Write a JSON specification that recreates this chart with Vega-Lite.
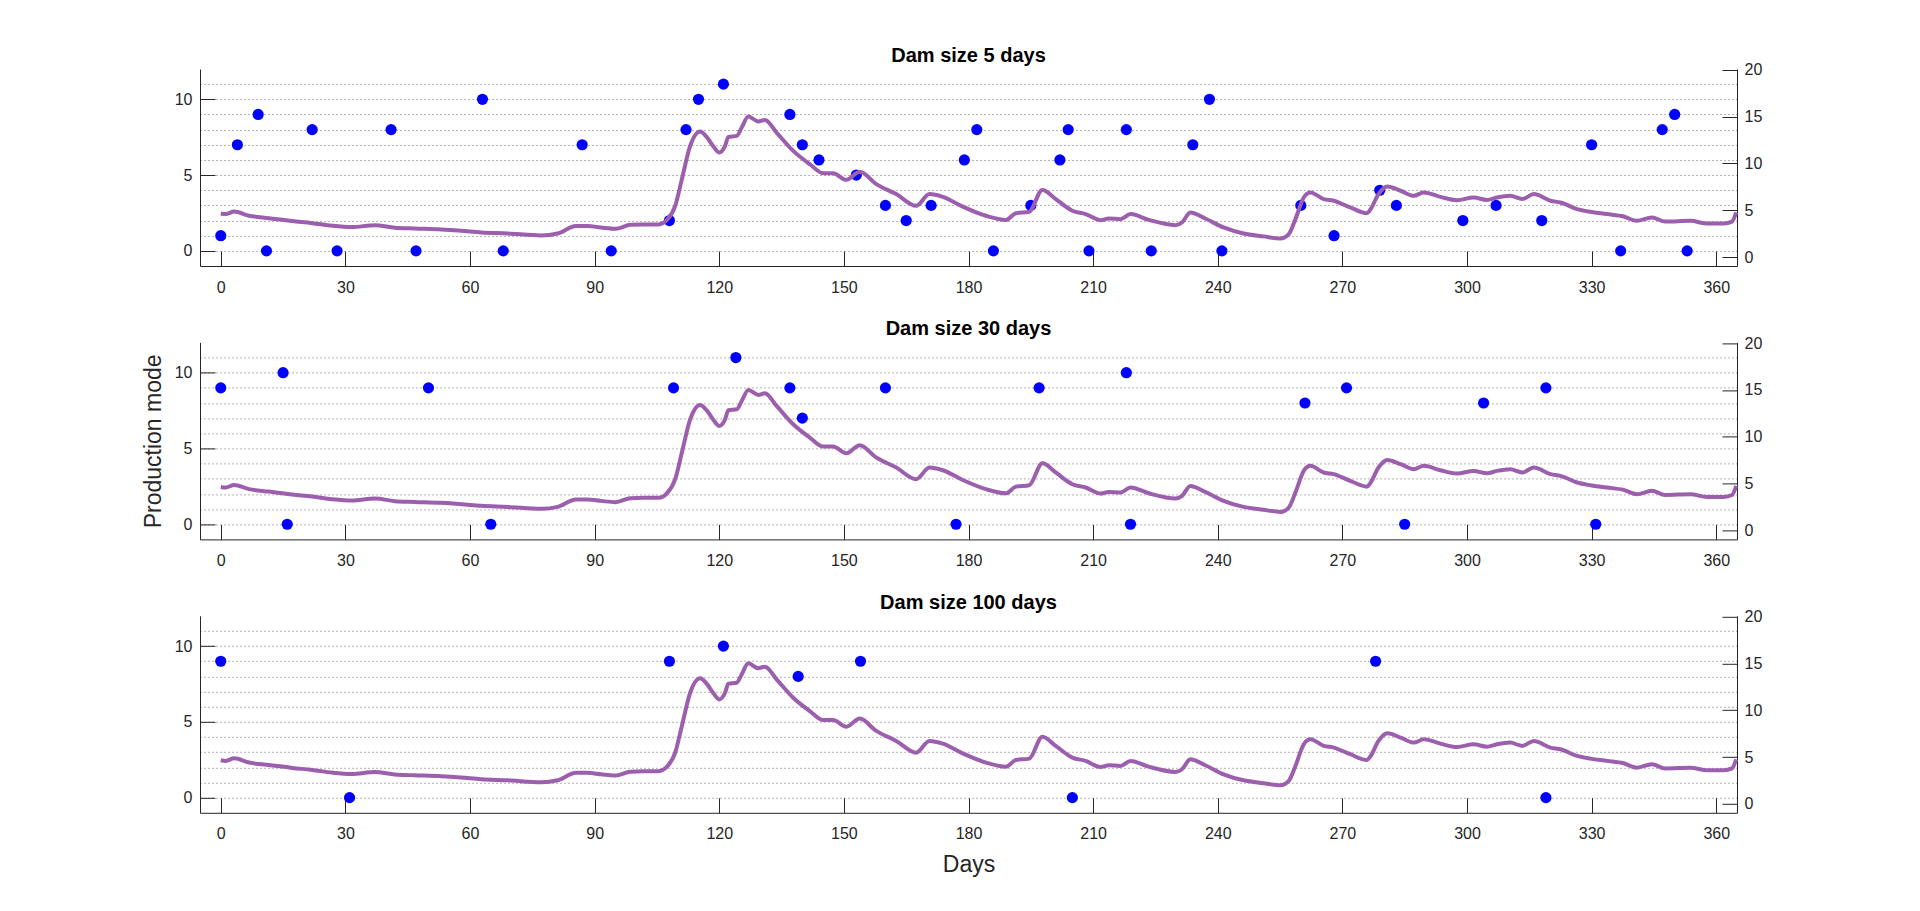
{
  "$schema": "https://vega.github.io/schema/vega-lite/v6.json",
  "padding": {"left": 142, "top": 46, "right": 5, "bottom": 5},
  "spacing": 76.4,
  "bounds": "flush",
  "config": {
    "font": "Liberation Sans",
    "view": {"stroke": null},
    "axis": {
      "labelFont": "Liberation Sans", "labelFontSize": 16, "labelColor": "#262626",
      "titleFont": "Liberation Sans", "titleFontSize": 23, "titleFontWeight": "normal", "titleColor": "#262626",
      "domainColor": "#262626", "tickColor": "#262626", "tickWidth": 1, "tickSize": -15, "grid": false, "labelFlush": false
    },
    "title": {"font": "Liberation Sans", "fontSize": 20, "fontWeight": "bold", "color": "#000000", "frame": "group", "anchor": "middle", "baseline": "alphabetic", "offset": -4.4}
  },
  "datasets": {
    "line": [
      {"day": 0, "v": 4.65}, {"day": 1.2, "v": 4.59}, {"day": 3.2, "v": 4.86}, {"day": 6.8, "v": 4.41}, {"day": 11.6, "v": 4.15},
      {"day": 17.2, "v": 3.84}, {"day": 22, "v": 3.62}, {"day": 26.8, "v": 3.34}, {"day": 31.5, "v": 3.2}, {"day": 37.1, "v": 3.41},
      {"day": 41.9, "v": 3.13}, {"day": 46.7, "v": 3.05}, {"day": 53.1, "v": 2.95}, {"day": 57.9, "v": 2.81}, {"day": 62.7, "v": 2.63},
      {"day": 69.1, "v": 2.52}, {"day": 77.1, "v": 2.31}, {"day": 81.1, "v": 2.52}, {"day": 85.5, "v": 3.31}, {"day": 88.3, "v": 3.31},
      {"day": 91.5, "v": 3.16}, {"day": 95, "v": 3.02}, {"day": 98.6, "v": 3.44}, {"day": 101.8, "v": 3.49}, {"day": 105.4, "v": 3.49},
      {"day": 107.4, "v": 3.97}, {"day": 109.4, "v": 5.47}, {"day": 111, "v": 8.32}, {"day": 113, "v": 11.86}, {"day": 115.4, "v": 13.4},
      {"day": 117, "v": 12.8}, {"day": 118.6, "v": 11.8}, {"day": 120, "v": 11.15}, {"day": 121.4, "v": 11.86}, {"day": 122.2, "v": 12.83},
      {"day": 124.2, "v": 12.93}, {"day": 125.4, "v": 13.82}, {"day": 127, "v": 15.0}, {"day": 129.4, "v": 14.47}, {"day": 131, "v": 14.64},
      {"day": 133.8, "v": 13.29}, {"day": 137.8, "v": 11.33}, {"day": 141.8, "v": 9.91}, {"day": 145, "v": 8.95}, {"day": 147.4, "v": 8.95},
      {"day": 150.6, "v": 8.24}, {"day": 153.8, "v": 9.1}, {"day": 157.8, "v": 7.79}, {"day": 162.6, "v": 6.72}, {"day": 167.4, "v": 5.47},
      {"day": 170.6, "v": 6.72}, {"day": 173.8, "v": 6.43}, {"day": 178.6, "v": 5.39}, {"day": 184.2, "v": 4.41}, {"day": 189, "v": 3.97},
      {"day": 191.4, "v": 4.68}, {"day": 194.6, "v": 4.83}, {"day": 197.8, "v": 7.17}, {"day": 201, "v": 6.19}, {"day": 205, "v": 4.94},
      {"day": 208.2, "v": 4.59}, {"day": 211.8, "v": 3.94}, {"day": 213.8, "v": 4.12}, {"day": 216.6, "v": 4.05}, {"day": 219, "v": 4.59},
      {"day": 223.4, "v": 3.97}, {"day": 229.8, "v": 3.41}, {"day": 231.4, "v": 3.7}, {"day": 233.4, "v": 4.76}, {"day": 237, "v": 4.12},
      {"day": 241.4, "v": 3.16}, {"day": 246.2, "v": 2.52}, {"day": 251, "v": 2.21}, {"day": 255.1, "v": 1.98}, {"day": 257.1, "v": 2.45},
      {"day": 258.7, "v": 4.05}, {"day": 260.7, "v": 6.36}, {"day": 262.3, "v": 6.9}, {"day": 265.5, "v": 6.19}, {"day": 267.9, "v": 6.01},
      {"day": 271.9, "v": 5.3}, {"day": 275.9, "v": 4.68}, {"day": 276.7, "v": 5.04}, {"day": 278.7, "v": 6.72}, {"day": 280.8, "v": 7.53},
      {"day": 284, "v": 7.08}, {"day": 287.2, "v": 6.54}, {"day": 289.6, "v": 6.9}, {"day": 293.6, "v": 6.43}, {"day": 297.6, "v": 6.07},
      {"day": 301.6, "v": 6.36}, {"day": 304.8, "v": 6.1}, {"day": 307.2, "v": 6.36}, {"day": 310.4, "v": 6.54}, {"day": 313.3, "v": 6.19},
      {"day": 316.1, "v": 6.72}, {"day": 320.1, "v": 6.01}, {"day": 322.5, "v": 5.83}, {"day": 326.5, "v": 5.12}, {"day": 329.7, "v": 4.83},
      {"day": 333.7, "v": 4.59}, {"day": 337.7, "v": 4.33}, {"day": 340.9, "v": 3.87}, {"day": 344.5, "v": 4.23}, {"day": 347.7, "v": 3.79},
      {"day": 353.8, "v": 3.87}, {"day": 357.8, "v": 3.58}, {"day": 361.8, "v": 3.58}, {"day": 363.8, "v": 3.79}, {"day": 364.8, "v": 4.76}
    ],
    "p5": [
      {"day": 0, "mode": 1}, {"day": 4, "mode": 7}, {"day": 9, "mode": 9}, {"day": 11, "mode": 0}, {"day": 22, "mode": 8},
      {"day": 28, "mode": 0}, {"day": 41, "mode": 8}, {"day": 47, "mode": 0}, {"day": 63, "mode": 10}, {"day": 68, "mode": 0},
      {"day": 87, "mode": 7}, {"day": 94, "mode": 0}, {"day": 108, "mode": 2}, {"day": 112, "mode": 8}, {"day": 115, "mode": 10},
      {"day": 121, "mode": 11}, {"day": 137, "mode": 9}, {"day": 140, "mode": 7}, {"day": 144, "mode": 6}, {"day": 153, "mode": 5},
      {"day": 160, "mode": 3}, {"day": 165, "mode": 2}, {"day": 171, "mode": 3}, {"day": 179, "mode": 6}, {"day": 182, "mode": 8},
      {"day": 186, "mode": 0}, {"day": 195, "mode": 3}, {"day": 202, "mode": 6}, {"day": 204, "mode": 8}, {"day": 209, "mode": 0},
      {"day": 218, "mode": 8}, {"day": 224, "mode": 0}, {"day": 234, "mode": 7}, {"day": 238, "mode": 10}, {"day": 241, "mode": 0},
      {"day": 260, "mode": 3}, {"day": 268, "mode": 1}, {"day": 279, "mode": 4}, {"day": 283, "mode": 3}, {"day": 299, "mode": 2},
      {"day": 307, "mode": 3}, {"day": 318, "mode": 2}, {"day": 330, "mode": 7}, {"day": 337, "mode": 0}, {"day": 347, "mode": 8},
      {"day": 350, "mode": 9}, {"day": 353, "mode": 0}
    ],
    "p30": [
      {"day": 0, "mode": 9}, {"day": 15, "mode": 10}, {"day": 16, "mode": 0}, {"day": 50, "mode": 9}, {"day": 65, "mode": 0},
      {"day": 109, "mode": 9}, {"day": 124, "mode": 11}, {"day": 137, "mode": 9}, {"day": 140, "mode": 7}, {"day": 160, "mode": 9},
      {"day": 177, "mode": 0}, {"day": 197, "mode": 9}, {"day": 218, "mode": 10}, {"day": 219, "mode": 0}, {"day": 261, "mode": 8},
      {"day": 271, "mode": 9}, {"day": 285, "mode": 0}, {"day": 304, "mode": 8}, {"day": 319, "mode": 9}, {"day": 331, "mode": 0}
    ],
    "p100": [
      {"day": 0, "mode": 9}, {"day": 31, "mode": 0}, {"day": 108, "mode": 9}, {"day": 121, "mode": 10}, {"day": 139, "mode": 8},
      {"day": 154, "mode": 9}, {"day": 205, "mode": 0}, {"day": 278, "mode": 9}, {"day": 319, "mode": 0}
    ]
  },
  "vconcat": [
    {
      "title": "Dam size 5 days",
      "width": 1537, "height": 197,
      "encoding": {"x": {"field": "day", "type": "quantitative", "scale": {"domain": [-5, 365], "nice": false, "zero": false},
        "axis": {"values": [0, 30, 60, 90, 120, 150, 180, 210, 240, 270, 300, 330, 360], "title": null, "labelPadding": 28}}},
      "layer": [
        {"data": {"name": "p5"}, "mark": {"type": "circle", "color": "#0000ff", "size": 125, "opacity": 1},
         "encoding": {"y": {"field": "mode", "type": "quantitative", "scale": {"domain": [-1, 12], "nice": false, "zero": false},
           "axis": {"orient": "left", "values": [0, 1, 2, 3, 4, 5, 6, 7, 8, 9, 10, 11], "labelExpr": "datum.value % 5 === 0 ? datum.label : ''",
             "tickOpacity": {"condition": {"test": "datum.value % 5 === 0", "value": 1}, "value": 0},
             "grid": true, "gridDash": [1, 3], "gridColor": "#000000", "gridOpacity": 0.6, "labelPadding": 23, "title": null}}}},
        {"data": {"name": "line"}, "mark": {"type": "line", "color": "#9b5fae", "strokeWidth": 4, "interpolate": "monotone"},
         "encoding": {"y": {"field": "v", "type": "quantitative", "scale": {"domain": [-0.95, 20.07], "nice": false, "zero": false},
           "axis": {"orient": "right", "values": [0, 5, 10, 15, 20], "labelPadding": 22, "title": null}}}}
      ],
      "resolve": {"scale": {"y": "independent"}}
    },
    {
      "title": "Dam size 30 days",
      "width": 1537, "height": 197,
      "encoding": {"x": {"field": "day", "type": "quantitative", "scale": {"domain": [-5, 365], "nice": false, "zero": false},
        "axis": {"values": [0, 30, 60, 90, 120, 150, 180, 210, 240, 270, 300, 330, 360], "title": null, "labelPadding": 28}}},
      "layer": [
        {"data": {"name": "p30"}, "mark": {"type": "circle", "color": "#0000ff", "size": 125, "opacity": 1},
         "encoding": {"y": {"field": "mode", "type": "quantitative", "scale": {"domain": [-1, 12], "nice": false, "zero": false},
           "axis": {"orient": "left", "values": [0, 1, 2, 3, 4, 5, 6, 7, 8, 9, 10, 11], "labelExpr": "datum.value % 5 === 0 ? datum.label : ''",
             "tickOpacity": {"condition": {"test": "datum.value % 5 === 0", "value": 1}, "value": 0},
             "grid": true, "gridDash": [1, 3], "gridColor": "#000000", "gridOpacity": 0.6, "labelPadding": 23,
             "title": "Production mode", "titlePadding": 9}}}},
        {"data": {"name": "line"}, "mark": {"type": "line", "color": "#9b5fae", "strokeWidth": 4, "interpolate": "monotone"},
         "encoding": {"y": {"field": "v", "type": "quantitative", "scale": {"domain": [-0.95, 20.07], "nice": false, "zero": false},
           "axis": {"orient": "right", "values": [0, 5, 10, 15, 20], "labelPadding": 22, "title": null}}}}
      ],
      "resolve": {"scale": {"y": "independent"}}
    },
    {
      "title": "Dam size 100 days",
      "width": 1537, "height": 197,
      "encoding": {"x": {"field": "day", "type": "quantitative", "scale": {"domain": [-5, 365], "nice": false, "zero": false},
        "axis": {"values": [0, 30, 60, 90, 120, 150, 180, 210, 240, 270, 300, 330, 360], "title": "Days", "labelPadding": 28, "titlePadding": 12}}},
      "layer": [
        {"data": {"name": "p100"}, "mark": {"type": "circle", "color": "#0000ff", "size": 125, "opacity": 1},
         "encoding": {"y": {"field": "mode", "type": "quantitative", "scale": {"domain": [-1, 12], "nice": false, "zero": false},
           "axis": {"orient": "left", "values": [0, 1, 2, 3, 4, 5, 6, 7, 8, 9, 10, 11], "labelExpr": "datum.value % 5 === 0 ? datum.label : ''",
             "tickOpacity": {"condition": {"test": "datum.value % 5 === 0", "value": 1}, "value": 0},
             "grid": true, "gridDash": [1, 3], "gridColor": "#000000", "gridOpacity": 0.6, "labelPadding": 23, "title": null}}}},
        {"data": {"name": "line"}, "mark": {"type": "line", "color": "#9b5fae", "strokeWidth": 4, "interpolate": "monotone"},
         "encoding": {"y": {"field": "v", "type": "quantitative", "scale": {"domain": [-0.95, 20.07], "nice": false, "zero": false},
           "axis": {"orient": "right", "values": [0, 5, 10, 15, 20], "labelPadding": 22, "title": null}}}}
      ],
      "resolve": {"scale": {"y": "independent"}}
    }
  ]
}
